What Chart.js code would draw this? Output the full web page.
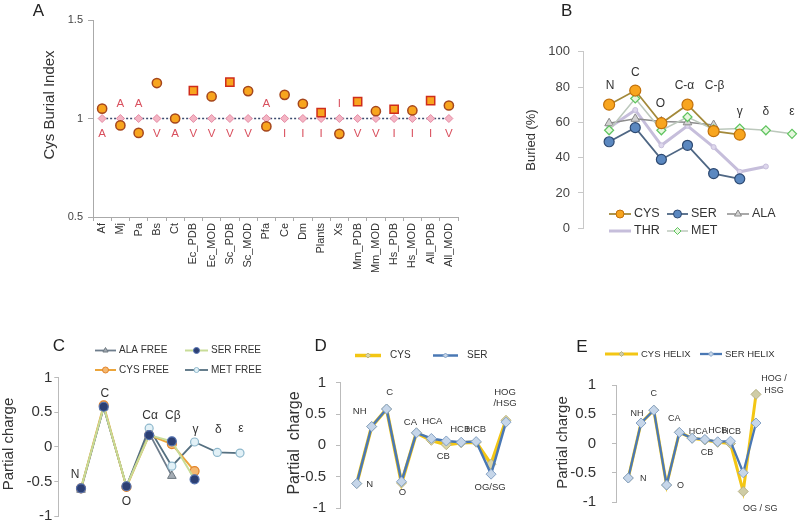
<!DOCTYPE html>
<html><head><meta charset="utf-8">
<script src="https://cdn.jsdelivr.net/npm/chart.js@4.4.0/dist/chart.umd.min.js"></script>
<style>
html,body{margin:0;padding:0;background:#fff;width:800px;height:527px;overflow:hidden}
canvas{position:absolute;left:0;top:0}
</style></head><body>
<canvas id="cA" width="800" height="527"></canvas>
<canvas id="cB" width="800" height="527"></canvas>
<canvas id="cC" width="800" height="527"></canvas>
<canvas id="cD" width="800" height="527"></canvas>
<canvas id="cE" width="800" height="527"></canvas>
<script>
const FONT = '"Liberation Sans", Arial, Helvetica, sans-serif';

// ---------- Panel A data ----------
const aCategories = ['Af','Mj','Pa','Bs','Ct','Ec_PDB','Ec_MOD','Sc_PDB','Sc_MOD','Pfa','Ce','Dm','Plants','Xs','Mm_PDB','Mm_MOD','Hs_PDB','Hs_MOD','All_PDB','All_MOD'];
const aCysBurial = [1.05,0.965,0.927,1.18,1.0,1.142,1.112,1.185,1.139,0.96,1.12,1.075,1.03,0.922,1.086,1.037,1.047,1.041,1.091,1.066];
const aReference = [1,1,1,1,1,1,1,1,1,1,1,1,1,1,1,1,1,1,1,1];
const aSquareCategories = ['Ec_PDB','Sc_PDB','Plants','Mm_PDB','Hs_PDB','All_PDB'];
const aLettersAbove = ['','A','A','','','','','','','A','','','','I','','','','','',''];
const aLettersBelow = ['A','','','V','A','V','V','V','V','','I','I','I','','V','V','I','I','I','V'];
const aTicks = [0.5, 1, 1.5];

// ---------- Panel B data ----------
const bAtoms = ['N','C','O','C-α','C-β','γ','δ','ε'];
const bCys = [70,78,59.5,70,55,53];
const bSer = [49,57,39,47,31,28];
const bAla = [59.5,62,60.5,60,58.5];
const bThr = [57,67,47,58,46,32,35];
const bMet = [55.5,73.5,55.5,63,56,56.5,55.5,53.5];

// ---------- Panel C data ----------
const cAtoms = ['N','C','O','Cα','Cβ','γ','δ','ε'];
const cAlaFree = [-0.62,0.57,-0.57,0.2,-0.42];
const cSerFree = [-0.6,0.58,-0.57,0.17,0.08,-0.47];
const cCysFree = [-0.6,0.6,-0.58,0.17,0.04,-0.35];
const cMetFree = [-0.6,0.57,-0.57,0.27,-0.28,0.07,-0.08,-0.09];

// ---------- Panel D data ----------
const dAtoms = ['N','NH','C','O','CA','HCA','CB','HCB','HCB','OG/SG','HOG\n/HSG'];
const dCys = [-0.61,0.3,0.58,-0.6,0.2,0.08,0.01,0.04,0.05,-0.3,0.4];
const dSer = [-0.61,0.3,0.58,-0.58,0.2,0.11,0.07,0.05,0.06,-0.46,0.37];

// ---------- Panel E data ----------
const eAtoms = ['N','NH','C','O','CA','HCA','CB','HCB','HCB','OG / SG','HOG /\nHSG'];
const eCys = [-0.59,0.35,0.57,-0.71,0.19,0.09,0.06,0.02,0.0,-0.82,0.84];
const eSer = [-0.59,0.35,0.57,-0.71,0.19,0.09,0.07,0.03,0.04,-0.5,0.35];

// ---------- helpers ----------
Chart.defaults.font.family = FONT;
const xy = arr => arr.map((v,i)=>({x:i,y:v}));
const fmt = v => String(Math.round(v*100)/100);

function marker(ctx, style, x, y, r, fill, stroke, lw) {
  ctx.save(); ctx.beginPath();
  if (style === 'circle') ctx.arc(x, y, r, 0, Math.PI*2);
  else if (style === 'rectRot') { ctx.moveTo(x-r,y); ctx.lineTo(x,y-r); ctx.lineTo(x+r,y); ctx.lineTo(x,y+r); ctx.closePath(); }
  else if (style === 'triangle') { ctx.moveTo(x,y-r); ctx.lineTo(x+r*0.87,y+r*0.5); ctx.lineTo(x-r*0.87,y+r*0.5); ctx.closePath(); }
  else if (style === 'rect') ctx.rect(x-r,y-r,2*r,2*r);
  ctx.fillStyle = fill; ctx.fill();
  if (lw > 0) { ctx.lineWidth = lw; ctx.strokeStyle = stroke; ctx.stroke(); }
  ctx.restore();
}
function vText(ctx, text, x, y, size, color) {
  ctx.save(); ctx.translate(x,y); ctx.rotate(-Math.PI/2);
  ctx.font = size + 'px ' + FONT; ctx.fillStyle = color; ctx.textAlign = 'center'; ctx.textBaseline = 'middle';
  ctx.fillText(text, 0, 0); ctx.restore();
}
function hText(ctx, text, x, y, size, color, align) {
  ctx.save(); ctx.font = size + 'px ' + FONT; ctx.fillStyle = color; ctx.textAlign = align || 'center'; ctx.textBaseline = 'middle';
  ctx.fillText(text, x, y); ctx.restore();
}
function drawLegend(ctx, chart, items, size) {
  items.forEach(it => {
    const ds = chart.data.datasets[it.ds];
    ctx.save(); ctx.strokeStyle = ds.borderColor; ctx.lineWidth = it.lw || ds.borderWidth;
    ctx.beginPath(); ctx.moveTo(it.x1, it.y); ctx.lineTo(it.x2, it.y); ctx.stroke(); ctx.restore();
    if (it.r) marker(ctx, ds.pointStyle, (it.x1+it.x2)/2, it.y, it.r, ds.pointBackgroundColor, ds.pointBorderColor, 1);
    hText(ctx, it.text, it.tx || (it.x2 + 3), it.y, size, '#333', 'left');
  });
}
function atomLabels(chart, labels, anchor, offsets, size, gap) {
  const ctx = chart.ctx, x = chart.scales.x, y = chart.scales.y;
  labels.forEach((t,i) => {
    const px = x.getPixelForValue(i) + offsets[i][0];
    const py = y.getPixelForValue(anchor[i]) + offsets[i][1];
    t.split('\n').forEach((ln,k) => hText(ctx, ln, px, py + k*gap, size, '#333'));
  });
}
function yAxis(min, max, step, size, pad, width, tickColor, lineColor, tickLen) {
  return {
    type: 'linear', min, max,
    ticks: { stepSize: step, font: { size, family: FONT }, color: tickColor, padding: pad, callback: fmt },
    grid: { drawOnChartArea: false, drawTicks: true, tickLength: tickLen || 5, color: lineColor },
    border: { display: true, color: lineColor, width: 1 },
    afterFit: s => { s.width = width; }
  };
}
function hiddenX(min, max) { return { type: 'linear', min, max, display: false }; }
const base = { responsive: false, animation: false, devicePixelRatio: 1, events: [],
  plugins: { legend: { display: false }, tooltip: { enabled: false } } };
function opts(padding, scales) { return Object.assign({}, base, { layout: { padding }, scales }); }

// ---------- Panel A ----------
new Chart(document.getElementById('cA'), {
  type: 'line',
  data: { labels: aCategories, datasets: [
    { data: aCysBurial, showLine: false, clip: false,
      pointStyle: c => aSquareCategories.includes(aCategories[c.dataIndex]) ? 'rect' : 'circle',
      pointRadius: c => aSquareCategories.includes(aCategories[c.dataIndex]) ? 5.8 : 4.6,
      pointBackgroundColor: '#f8a51e',
      pointBorderColor: c => aSquareCategories.includes(aCategories[c.dataIndex]) ? '#cf2d1b' : '#a5461c',
      pointBorderWidth: 1.5 },
    { data: aReference, clip: false, borderColor: '#3b4b6e', borderWidth: 1.5, borderDash: [2,2],
      pointStyle: 'rectRot', pointRadius: 4, pointBackgroundColor: '#f4b5c4', pointBorderColor: '#e48aa3', pointBorderWidth: 1 }
  ]},
  options: opts({ left: 0, top: 20, right: 800-458, bottom: 527-217-62 }, {
    x: { type: 'category', offset: true,
      grid: { offset: true, drawOnChartArea: false, tickLength: 4, color: '#aaa' },
      border: { color: '#aaa' },
      ticks: { font: { size: 11, family: FONT }, color: '#333', minRotation: 90, maxRotation: 90, autoSkip: false, padding: 2 },
      afterFit: s => { s.height = 62; } },
    y: Object.assign(yAxis(0.5, 1.5, 0.5, 11, 5, 93, '#444', '#aaa'),
      { afterBuildTicks: s => { s.ticks = aTicks.map(v => ({ value: v })); } })
  }),
  plugins: [{ id: 'aText', afterDatasetsDraw(chart) {
    const ctx = chart.ctx, x = chart.scales.x, y = chart.scales.y;
    const y1 = y.getPixelForValue(1);
    aCategories.forEach((c,i) => {
      const px = x.getPixelForValue(i);
      if (aLettersAbove[i]) hText(ctx, aLettersAbove[i], px, y1 - 15, 11.5, '#d9505e');
      if (aLettersBelow[i]) hText(ctx, aLettersBelow[i], px, y1 + 15, 11.5, '#d9505e');
    });
    vText(ctx, 'Cys Burial Index', 50, 105, 15, '#333');
    hText(ctx, 'A', 38.5, 11, 17, '#222');
  }}]
});

// ---------- Panel B ----------
new Chart(document.getElementById('cB'), {
  type: 'line',
  data: { datasets: [
    { label: 'CYS', data: xy(bCys), clip: false, borderColor: '#a3893a', borderWidth: 1.8, pointStyle: 'circle', pointRadius: 5.5, pointBackgroundColor: '#f8a51e', pointBorderColor: '#c2700a', pointBorderWidth: 1.2 },
    { label: 'SER', data: xy(bSer), clip: false, borderColor: '#4f6784', borderWidth: 1.8, pointStyle: 'circle', pointRadius: 5, pointBackgroundColor: '#5b88c0', pointBorderColor: '#2e4a72', pointBorderWidth: 1.2 },
    { label: 'MET', data: xy(bMet), clip: false, borderColor: '#bcc8bc', borderWidth: 1.5, pointStyle: 'rectRot', pointRadius: 4.5, pointBackgroundColor: '#e6f7de', pointBorderColor: '#5fc45f', pointBorderWidth: 1.2 },
    { label: 'ALA', data: xy(bAla), clip: false, borderColor: '#8c8c8c', borderWidth: 1.5, pointStyle: 'triangle', pointRadius: 5, pointBackgroundColor: '#d2d2d2', pointBorderColor: '#888', pointBorderWidth: 1 },
    { label: 'THR', data: xy(bThr), clip: false, borderColor: '#c6bedb', borderWidth: 3, pointStyle: 'circle', pointRadius: 2.5, pointBackgroundColor: '#ddd6ec', pointBorderColor: '#c6bedb', pointBorderWidth: 1 }
  ]},
  options: opts({ left: 0, top: 51.7, right: 8, bottom: 527-228.3 }, {
    x: hiddenX(-1, 7),
    y: yAxis(0, 100, 20, 13, 8, 583, '#444', '#c8c8c8')
  }),
  plugins: [{ id: 'bText', afterDatasetsDraw(chart) {
    const ctx = chart.ctx;
    atomLabels(chart, bAtoms, bMet, [[1,-45],[0,-26],[-1,-27],[-3,-31],[1,-43.5],[0,-17],[0,-18.6],[0,-22]], 12, 0);
    drawLegend(ctx, chart, [
      { ds: 0, x1: 609, x2: 631, y: 214, r: 4, text: 'CYS' },
      { ds: 1, x1: 667, x2: 688, y: 214, r: 4, text: 'SER' },
      { ds: 3, x1: 727, x2: 749, y: 214, r: 4, text: 'ALA' },
      { ds: 4, x1: 609, x2: 631, y: 231, r: 0, text: 'THR' },
      { ds: 2, x1: 667, x2: 688, y: 231, r: 3.5, text: 'MET' }
    ], 12.5);
    vText(ctx, 'Buried (%)', 531, 140, 13, '#333');
    hText(ctx, 'B', 566.7, 11, 17, '#222');
  }}]
});

// ---------- Panel C ----------
new Chart(document.getElementById('cC'), {
  type: 'line',
  data: { datasets: [
    { label: 'SER FREE', data: xy(cSerFree), clip: false, borderColor: '#c8dc98', borderWidth: 2, pointStyle: 'circle', pointRadius: 4.5, pointBackgroundColor: '#2c3f73', pointBorderColor: '#5472b0', pointBorderWidth: 1.2 },
    { label: 'CYS FREE', data: xy(cCysFree), clip: false, borderColor: '#eca53a', borderWidth: 2, pointStyle: 'circle', pointRadius: 4.5, pointBackgroundColor: '#f4b870', pointBorderColor: '#e2832a', pointBorderWidth: 1.2 },
    { label: 'MET FREE', data: xy(cMetFree), clip: false, borderColor: '#557080', borderWidth: 1.8, pointStyle: 'circle', pointRadius: 4, pointBackgroundColor: '#e2f1f7', pointBorderColor: '#8fb8cc', pointBorderWidth: 1.2 },
    { label: 'ALA FREE', data: xy(cAlaFree), clip: false, borderColor: '#6e7d8c', borderWidth: 1.8, pointStyle: 'triangle', pointRadius: 5, pointBackgroundColor: '#a4acb4', pointBorderColor: '#6e7880', pointBorderWidth: 1 }
  ]},
  options: opts({ left: 0, top: 377.7, right: 800-240, bottom: 527-519.3 }, {
    x: hiddenX(-1, 7),
    y: yAxis(-1, 1, 0.5, 15, 2, 58.3, '#333', '#bbb', 4)
  }),
  plugins: [{ id: 'cText', afterDatasetsDraw(chart) {
    const ctx = chart.ctx;
    atomLabels(chart, cAtoms, cMetFree, [[-6,-14],[1,-14],[0,15],[1,-12.5],[1,-51],[1,-12],[1,-23],[1,-24]], 12, 0);
    drawLegend(ctx, chart, [
      { ds: 3, x1: 95, x2: 116, y: 350.5, r: 3, text: 'ALA FREE' },
      { ds: 0, x1: 185, x2: 208, y: 350.5, r: 3, text: 'SER FREE' },
      { ds: 1, x1: 95, x2: 116, y: 370, r: 3, text: 'CYS FREE' },
      { ds: 2, x1: 185, x2: 208, y: 370, r: 2.5, text: 'MET FREE' }
    ], 10);
    vText(ctx, 'Partial charge', 9, 444, 15, '#333');
    hText(ctx, 'C', 59, 346.7, 17, '#222');
  }}]
});

// ---------- Panel D ----------
new Chart(document.getElementById('cD'), {
  type: 'line',
  data: { datasets: [
    { label: 'SER', data: xy(dSer), clip: false, borderColor: '#4a78b4', borderWidth: 2.5, pointStyle: 'rectRot', pointRadius: 5, pointBackgroundColor: '#c6d6e9', pointBorderColor: '#86a3c6', pointBorderWidth: 1 },
    { label: 'CYS', data: xy(dCys), clip: false, borderColor: '#f3c614', borderWidth: 3.5, pointStyle: 'rectRot', pointRadius: 5, pointBackgroundColor: '#d8d4a8', pointBorderColor: '#bdb680', pointBorderWidth: 1 }
  ]},
  options: opts({ left: 0, top: 382.7, right: 800-506, bottom: 527-521.7 }, {
    x: hiddenX(-1.12, 10),
    y: yAxis(-1, 1, 0.5, 15, 10, 340, '#333', '#bbb', 4)
  }),
  plugins: [{ id: 'dText', afterDatasetsDraw(chart) {
    const ctx = chart.ctx;
    atomLabels(chart, dAtoms, dSer, [[13,1],[-12,-15],[3,-17],[1,11],[-6,-10],[1,-17],[-3,15],[-1,-13],[0,-12],[-1,13],[-1,-30]], 9.5, 11);
    drawLegend(ctx, chart, [
      { ds: 1, x1: 355, x2: 381, y: 355.5, r: 2.5, text: 'CYS', tx: 390 },
      { ds: 0, x1: 433, x2: 458, y: 355.5, r: 2.5, text: 'SER', tx: 467 }
    ], 10);
    vText(ctx, 'Partial  charge', 295, 443, 16, '#333');
    hText(ctx, 'D', 320.7, 346.7, 17, '#222');
  }}]
});

// ---------- Panel E ----------
new Chart(document.getElementById('cE'), {
  type: 'line',
  data: { datasets: [
    { label: 'SER HELIX', data: xy(eSer), clip: false, borderColor: '#4a78b4', borderWidth: 2.3, pointStyle: 'rectRot', pointRadius: 5, pointBackgroundColor: '#c6d6e9', pointBorderColor: '#86a3c6', pointBorderWidth: 1 },
    { label: 'CYS HELIX', data: xy(eCys), clip: false, borderColor: '#f3c614', borderWidth: 3, pointStyle: 'rectRot', pointRadius: 5, pointBackgroundColor: '#cfcca6', pointBorderColor: '#b5b084', pointBorderWidth: 1 }
  ]},
  options: opts({ left: 0, top: 385, right: 800-756, bottom: 527-511.7 }, {
    x: hiddenX(-0.96, 10),
    y: yAxis(-1, 1, 0.5, 15, 16, 616, '#333', '#bbb', 4)
  }),
  plugins: [{ id: 'eText', afterDatasetsDraw(chart) {
    const ctx = chart.ctx;
    atomLabels(chart, eAtoms, eSer, [[15,1],[-4,-10],[0,-17],[14,0],[-5,-14],[6,-7],[2,13],[0,-11],[1,-10],[17,36],[18,-45]], 9, 12.5);
    drawLegend(ctx, chart, [
      { ds: 1, x1: 605, x2: 638, y: 354, r: 2.5, text: 'CYS HELIX' },
      { ds: 0, x1: 700, x2: 722, y: 354, r: 2.5, text: 'SER HELIX' }
    ], 9.5);
    vText(ctx, 'Partial charge', 563, 442.5, 15, '#333');
    hText(ctx, 'E', 582, 347.5, 17, '#222');
  }}]
});
</script>
</body></html>
